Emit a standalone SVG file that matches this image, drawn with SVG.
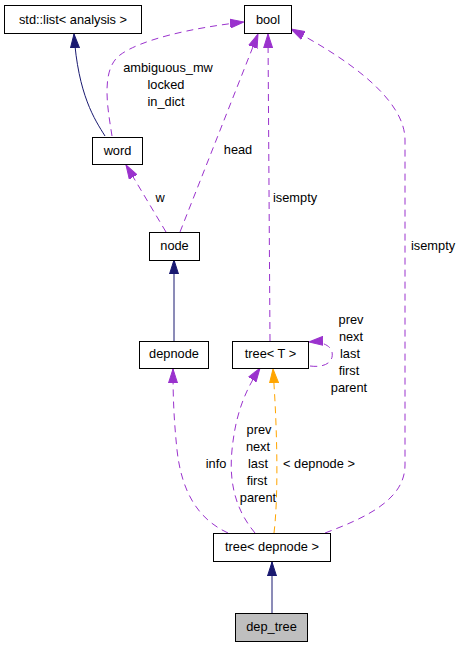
<svg xmlns="http://www.w3.org/2000/svg" width="463" height="648" viewBox="0 0 463 648">
<defs>
<style>
.n rect{fill:#fff;stroke:#000;stroke-width:1}
text{font-family:"Liberation Sans",Arial,sans-serif;font-size:12.8px;fill:#000}
.n text{text-anchor:middle}
.e path{fill:none;stroke-width:1}
.s{stroke:#191970}
.p{stroke:#9a32cd;stroke-dasharray:7,5}
.o{stroke:#ffa500;stroke-dasharray:7,5}
.lbl{text-anchor:middle}
</style>
<marker id="an" markerUnits="userSpaceOnUse" markerWidth="15" markerHeight="10" refX="14" refY="5" orient="auto" viewBox="0 0 15 10"><path d="M0,0.5 L14,5 L0,9.5 z" fill="#191970" stroke="#191970"/></marker>
<marker id="ap" markerUnits="userSpaceOnUse" markerWidth="15" markerHeight="10" refX="14" refY="5" orient="auto" viewBox="0 0 15 10"><path d="M0,0.5 L14,5 L0,9.5 z" fill="#9a32cd" stroke="#9a32cd"/></marker>
<marker id="ao" markerUnits="userSpaceOnUse" markerWidth="15" markerHeight="10" refX="14" refY="5" orient="auto" viewBox="0 0 15 10"><path d="M0,0.5 L14,5 L0,9.5 z" fill="#ffa500" stroke="#ffa500"/></marker>
</defs>
<rect width="463" height="648" fill="#fff"/>
<g id="edges" class="e">
<path class="s" d="M105,136 C95,120 78,95 74,34" marker-end="url(#an)"/>
<path class="p" d="M112,136 C108,110 100,70 120,55 C140,40 190,28 244,22" marker-end="url(#ap)"/>
<path class="p" d="M180,232 L258,34" marker-end="url(#ap)"/>
<path class="p" d="M166,232 L126,165" marker-end="url(#ap)"/>
<path class="s" d="M174,341 L174,260" marker-end="url(#an)"/>
<path class="p" d="M270,341 L268,34" marker-end="url(#ap)"/>
<path class="p" d="M325,533 C365,518 405,500 405,465 L405,140 C405,100 350,60 291,29" marker-end="url(#ap)"/>
<path class="p" d="M310,366 C325,368 334,362 332,352 C331,346 322,341 309,342" marker-end="url(#ap)"/>
<path class="p" d="M255,533 C240,515 228,490 232,450 C235,420 242,395 260,368" marker-end="url(#ap)"/>
<path class="o" d="M274,533 C278,500 278,440 273,369" marker-end="url(#ao)"/>
<path class="p" d="M228,533 C200,520 182,495 177,450 C174,420 173,400 173,369" marker-end="url(#ap)"/>
<path class="s" d="M272,613 L272,562" marker-end="url(#an)"/>
</g>
<g id="labels">
<text class="lbl" x="168" y="72">ambiguous_mw</text>
<text class="lbl" x="166" y="89">locked</text>
<text class="lbl" x="166" y="106">in_dict</text>
<text class="lbl" x="238" y="154">head</text>
<text class="lbl" x="160" y="202">w</text>
<text x="273" y="202">isempty</text>
<text x="411" y="250">isempty</text>
<text class="lbl" x="351" y="324">prev</text>
<text class="lbl" x="351" y="341">next</text>
<text class="lbl" x="350" y="358">last</text>
<text class="lbl" x="349" y="375">first</text>
<text class="lbl" x="349" y="392">parent</text>
<text class="lbl" x="259" y="434">prev</text>
<text class="lbl" x="258" y="451">next</text>
<text class="lbl" x="258" y="468">last</text>
<text class="lbl" x="257" y="485">first</text>
<text class="lbl" x="258" y="502">parent</text>
<text class="lbl" x="216" y="468">info</text>
<text x="283" y="468">&lt; depnode &gt;</text>
</g>
<g id="std_list" class="n"><rect x="4.5" y="5.5" width="137" height="28"/><text x="73" y="24">std::list&lt; analysis &gt;</text></g>
<g id="bool" class="n"><rect x="244.5" y="5.5" width="47" height="28"/><text x="268" y="24">bool</text></g>
<g id="word" class="n"><rect x="92.5" y="137.5" width="50" height="27"/><text x="117.5" y="155">word</text></g>
<g id="node" class="n"><rect x="149.5" y="232.5" width="50" height="28"/><text x="174.5" y="250">node</text></g>
<g id="depnode" class="n"><rect x="139.5" y="341.5" width="69" height="27"/><text x="174" y="358">depnode</text></g>
<g id="tree_T" class="n"><rect x="232.5" y="341.5" width="76" height="27"/><text x="270.5" y="358">tree&lt; T &gt;</text></g>
<g id="tree_depnode" class="n"><rect x="213.5" y="533.5" width="117" height="28"/><text x="272" y="551">tree&lt; depnode &gt;</text></g>
<g id="dep_tree" class="n"><rect x="235.5" y="613.5" width="72" height="28" style="fill:#bfbfbf"/><text x="271.5" y="631">dep_tree</text></g>
</svg>
